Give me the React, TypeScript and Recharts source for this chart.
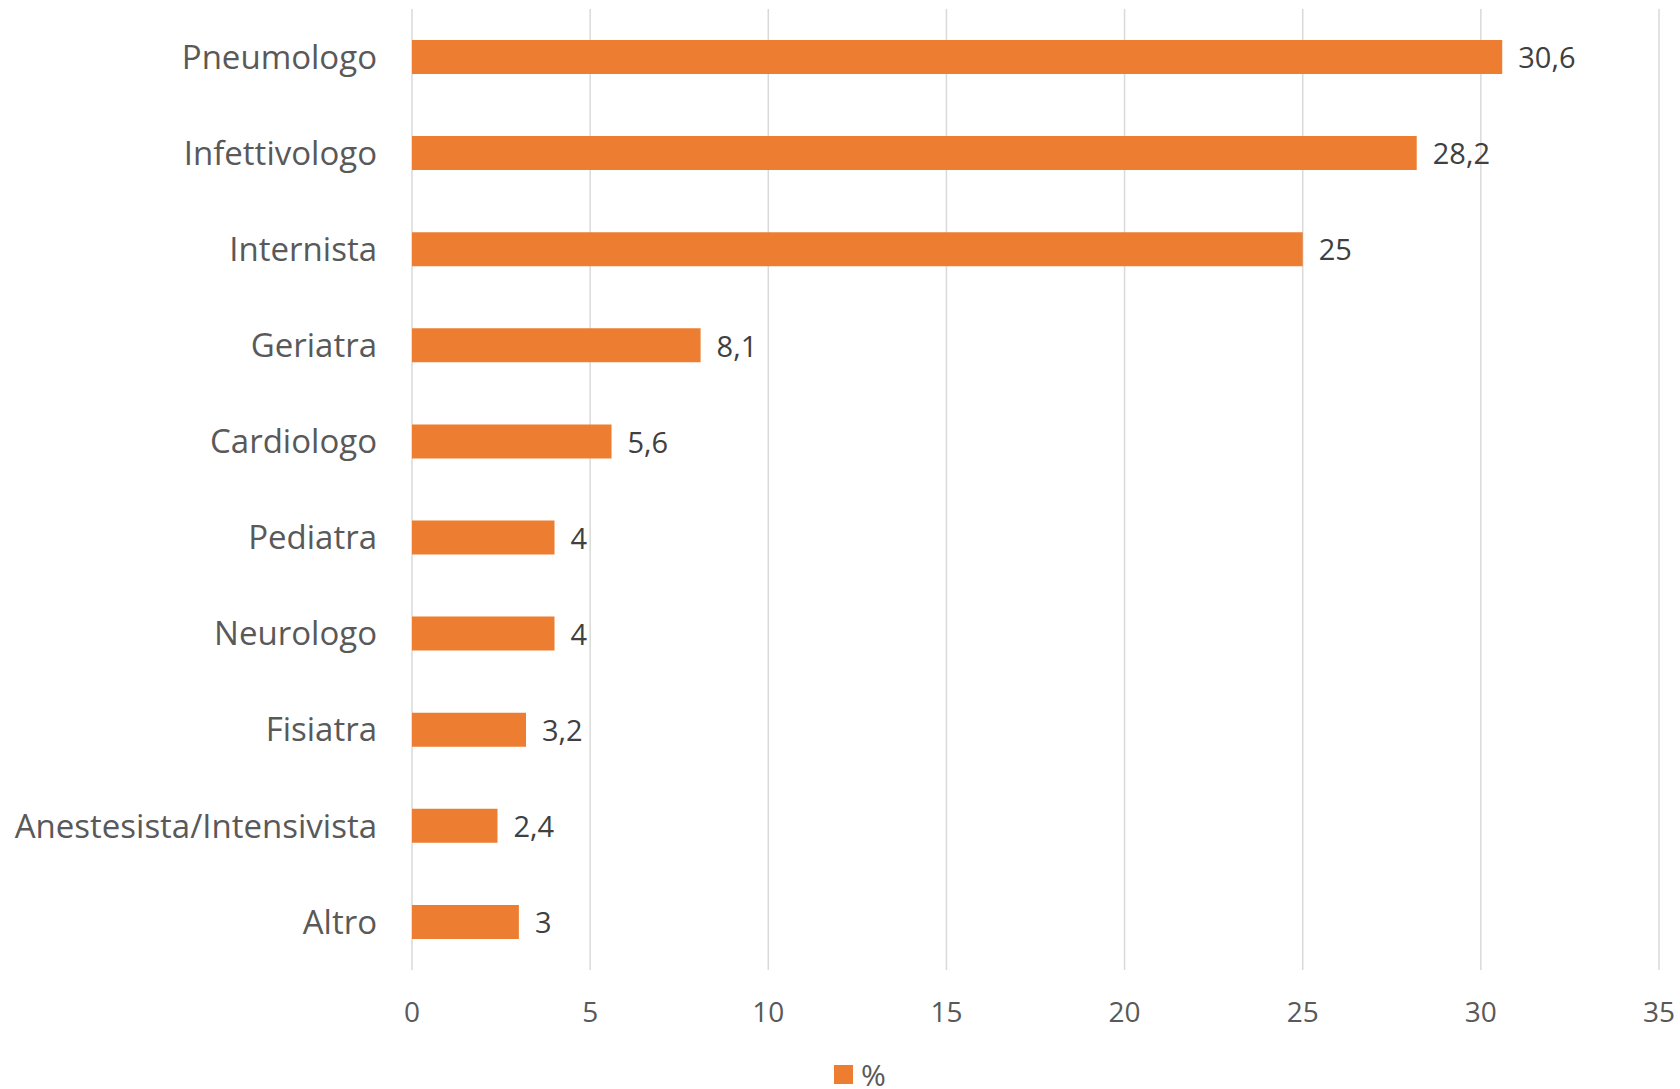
import React from "react";
import {
  BarChart,
  Bar,
  XAxis,
  YAxis,
  CartesianGrid,
  Legend,
  LabelList,
} from "recharts";

const categories = [
  "Pneumologo",
  "Infettivologo",
  "Internista",
  "Geriatra",
  "Cardiologo",
  "Pediatra",
  "Neurologo",
  "Fisiatra",
  "Anestesista/Intensivista",
  "Altro",
];
const percentValues = [30.6, 28.2, 25, 8.1, 5.6, 4, 4, 3.2, 2.4, 3];
const xTicks = [0, 5, 10, 15, 20, 25, 30, 35];

const ORANGE = "#ED7D31";
const AXIS_TEXT = "#595959";
const LABEL_TEXT = "#404040";
const FONT = "'Open Sans', 'Noto Sans', sans-serif";

const App: React.FC = () => {
  const data = categories.map((name, i) => ({ name, value: percentValues[i] }));

  return (
    <div
      style={{
        position: "absolute",
        left: 0,
        top: 0,
        width: 1680,
        height: 1089,
        background: "#fff",
        fontFamily: FONT,
      }}
    >
      <BarChart
        width={1680}
        height={1089}
        data={data}
        layout="vertical"
        margin={{ top: 9, right: 21, left: 0, bottom: 0 }}
      >
        <CartesianGrid horizontal={false} stroke="#D9D9D9" strokeWidth={1.5} />
        <XAxis
          type="number"
          domain={[0, 35]}
          ticks={xTicks}
          interval={0}
          height={119}
          axisLine={false}
          tickLine={false}
          tickSize={0}
          tickMargin={32}
          tick={{ fill: AXIS_TEXT, fontSize: 28, fontFamily: FONT }}
        />
        <YAxis
          type="category"
          dataKey="name"
          width={412}
          interval={0}
          axisLine={false}
          tickLine={false}
          tickSize={0}
          tickMargin={35}
          tick={{ fill: AXIS_TEXT, fontSize: 33, fontFamily: FONT }}
        />
        <Legend
          layout="horizontal"
          verticalAlign="middle"
          align="center"
          iconType="square"
          iconSize={19}
          wrapperStyle={{
            left: 834,
            top: 1060,
            width: "auto",
            height: 26,
            lineHeight: "26px",
          }}
          formatter={(value: string) => (
            <span
              style={{
                color: AXIS_TEXT,
                fontSize: 30,
                lineHeight: "26px",
                marginLeft: 4,
                verticalAlign: "middle",
              }}
            >
              {value}
            </span>
          )}
        />
        <Bar
          dataKey="value"
          name="%"
          fill={ORANGE}
          barSize={34}
          isAnimationActive={false}
        >
          <LabelList
            dataKey="value"
            position="right"
            offset={16}
            dy={1}
            fill={LABEL_TEXT}
            fontSize={29}
            fontFamily={FONT}
            formatter={(v: number) => String(v).replace(".", ",")}
          />
        </Bar>
      </BarChart>
    </div>
  );
};

export default App;
